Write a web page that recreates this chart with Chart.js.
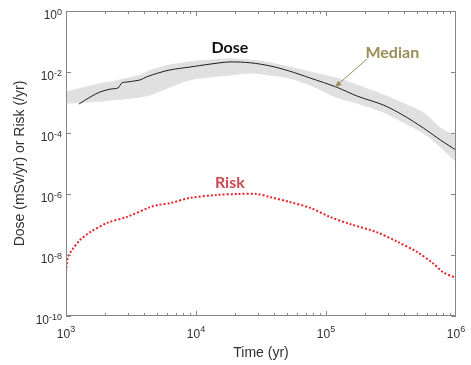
<!DOCTYPE html>
<html>
<head>
<meta charset="utf-8">
<script src="https://cdn.jsdelivr.net/npm/chart.js@4.4.1/dist/chart.umd.min.js"></script>
<style>
  html, body { margin: 0; padding: 0; background: #fff; }
  #wrap { width: 471px; height: 365px; }
</style>
</head>
<body>
<div id="wrap"><canvas id="chart"></canvas></div>
<script>
// values (log-log axes)
const doseTime   = [1259, 1531, 1820, 2188, 2512, 2692, 2951, 3715, 4169, 5129, 6310, 8913,
                    12880, 18200, 26300, 37150, 52480, 75860, 120200, 173800, 275400, 389000, 562300, 758600, 1000000];
const doseMedian = [8.9e-4, 1.5e-3, 2.2e-3, 2.75e-3, 3.0e-3, 4.4e-3, 4.7e-3, 5.5e-3, 6.9e-3, 9.3e-3, 1.17e-2, 1.45e-2,
                    1.82e-2, 2.14e-2, 2.0e-2, 1.58e-2, 1.07e-2, 6.3e-3, 3.2e-3, 1.62e-3, 8.3e-4, 3.9e-4, 1.45e-4, 5.9e-5, 2.75e-5];

// envelope of the individual realizations (grey band)
const bandTime  = [1000, 1928, 2188, 3715, 4426, 6310, 8913, 12880, 18200, 26300, 37150, 52480,
                   75860, 120200, 173800, 275400, 389000, 562300, 758600, 1000000];
const bandUpper = [2.19e-3, 4.37e-3, 4.68e-3, 7.9e-3, 1.12e-2, 1.7e-2, 2.14e-2, 2.45e-2, 2.69e-2, 2.45e-2, 2.0e-2, 1.45e-2,
                   1.0e-2, 6.3e-3, 3.7e-3, 1.78e-3, 9.5e-4, 4.6e-4, 1.45e-4, 7.9e-5];
const bandLower = [9.5e-4, 1.12e-3, 1.2e-3, 1.5e-3, 1.78e-3, 3.2e-3, 5.5e-3, 6.9e-3, 7.9e-3, 9.3e-3, 7.9e-3, 6.3e-3,
                   3.7e-3, 1.5e-3, 9.5e-4, 4.9e-4, 2.3e-4, 1.0e-4, 3.5e-5, 1.12e-5];

const riskTime   = [1000, 1035, 1112, 1282, 1531, 2065, 2951, 4426, 5129, 6310, 8913, 14450, 20890, 29510,
                    37150, 52480, 75860, 107200, 151400, 245500, 354800, 501200, 660700, 794300, 1000000];
const riskValues = [2.75e-9, 8.5e-9, 1.45e-8, 3.1e-8, 5.6e-8, 1.12e-7, 1.78e-7, 3.7e-7, 4.4e-7, 5.0e-7, 7.4e-7, 9.3e-7, 1.0e-6, 1.0e-6,
                    7.9e-7, 5.5e-7, 3.5e-7, 1.78e-7, 1.05e-7, 5.6e-8, 2.7e-8, 1.26e-8, 5.5e-9, 2.75e-9, 1.78e-9];

const xTickValues = [1e3, 1e4, 1e5, 1e6];
const yTickValues = [1e-10, 1e-8, 1e-6, 1e-4, 1e-2, 1];

const pts = (xs, ys) => xs.map((x, i) => ({ x, y: ys[i] }));
const expOf = v => String(Math.round(Math.log10(v)));

const AXIS_GREY = '#868686';
const TEXT_DARK = '#303030';
const SANS = '"Liberation Sans", Arial, sans-serif';

// box around the plot with inward ticks on all four sides
const frameTicks = {
  id: 'frameTicks',
  afterDraw(chart) {
    const { ctx, chartArea: a, scales: { x, y } } = chart;
    ctx.save();
    ctx.strokeStyle = AXIS_GREY;
    ctx.lineWidth = 1;
    ctx.strokeRect(a.left + 0.5, a.top + 0.5, a.right - a.left - 1, a.bottom - a.top - 1);
    ctx.beginPath();
    for (let d = 3; d < 6; d++) {
      for (let m = 1; m <= 9; m++) {
        const px = Math.round(x.getPixelForValue(m * 10 ** d)) + 0.5;
        const len = m === 1 ? 5 : 3;
        ctx.moveTo(px, a.bottom); ctx.lineTo(px, a.bottom - len);
        ctx.moveTo(px, a.top);    ctx.lineTo(px, a.top + len);
      }
    }
    yTickValues.forEach(v => {
      const py = Math.round(y.getPixelForValue(v)) + 0.5;
      ctx.moveTo(a.left, py);  ctx.lineTo(a.left + 5, py);
      ctx.moveTo(a.right, py); ctx.lineTo(a.right - 5, py);
    });
    ctx.stroke();
    ctx.restore();
  }
};

// tick labels as 10 with a raised exponent
const powLabels = {
  id: 'powLabels',
  afterDraw(chart) {
    const { ctx, chartArea: a, scales: { x, y } } = chart;
    ctx.save();
    ctx.fillStyle = TEXT_DARK;
    ctx.textBaseline = 'alphabetic';
    ctx.textAlign = 'left';
    const baseFont = s => `${s}px ${SANS}`;

    xTickValues.forEach(v => {
      const px = x.getPixelForValue(v);
      ctx.font = baseFont(12); const bw = ctx.measureText('10').width;
      ctx.font = baseFont(9);  const ew = ctx.measureText(expOf(v)).width;
      const x0 = px - (bw + ew) / 2;
      ctx.font = baseFont(12); ctx.fillText('10', x0, a.bottom + 22);
      ctx.font = baseFont(9);  ctx.fillText(expOf(v), x0 + bw, a.bottom + 16);
    });

    yTickValues.forEach(v => {
      const py = y.getPixelForValue(v);
      ctx.font = baseFont(12); const bw = ctx.measureText('10').width;
      ctx.font = baseFont(9);  const ew = ctx.measureText(expOf(v)).width;
      const x0 = a.left - 4 - ew - bw;
      ctx.font = baseFont(12); ctx.fillText('10', x0, py + 8);
      ctx.font = baseFont(9);  ctx.fillText(expOf(v), x0 + bw, py + 4);
    });
    ctx.restore();
  }
};

// "Dose", "Median" (with arrow) and "Risk" labels, placed in data coordinates
const notes = {
  id: 'notes',
  afterDatasetsDraw(chart) {
    const { ctx, scales: { x, y } } = chart;
    const P = (t, v) => [x.getPixelForValue(t), y.getPixelForValue(v)];
    ctx.save();
    ctx.font = 'bold 16px Lato, "Open Sans", sans-serif';
    ctx.textAlign = 'center';
    ctx.textBaseline = 'middle';

    let [px, py] = P(18200, 0.061);
    ctx.fillStyle = '#111';
    ctx.fillText('Dose', px, py);

    [px, py] = P(323600, 0.042);
    ctx.fillStyle = '#9a8d58';
    ctx.fillText('Median', px, py);

    [px, py] = P(18200, 2.3e-6);
    ctx.fillStyle = '#cc4a52';
    ctx.fillText('Risk', px, py);

    // arrow to the median line
    const [x1, y1] = P(206500, 0.0267);
    const [x2, y2] = P(117200, 3.2e-3);
    ctx.strokeStyle = '#9a8d58';
    ctx.fillStyle = '#9a8d58';
    ctx.lineWidth = 1;
    ctx.beginPath(); ctx.moveTo(x1, y1); ctx.lineTo(x2, y2); ctx.stroke();
    const ang = Math.atan2(y2 - y1, x2 - x1);
    ctx.beginPath();
    ctx.moveTo(x2, y2);
    ctx.lineTo(x2 - 7 * Math.cos(ang - 0.4), y2 - 7 * Math.sin(ang - 0.4));
    ctx.lineTo(x2 - 7 * Math.cos(ang + 0.4), y2 - 7 * Math.sin(ang + 0.4));
    ctx.closePath(); ctx.fill();
    ctx.restore();
  }
};

new Chart(document.getElementById('chart'), {
  type: 'line',
  data: {
    datasets: [
      { label: 'upper', data: pts(bandTime, bandUpper), borderColor: '#e0e0e0', borderWidth: 1,
        pointRadius: 0, tension: 0.3, fill: false, order: 3 },
      { label: 'lower', data: pts(bandTime, bandLower), borderColor: '#e0e0e0', borderWidth: 1,
        backgroundColor: '#e0e0e0', pointRadius: 0, tension: 0.3, fill: '-1', order: 3 },
      { label: 'Median', data: pts(doseTime, doseMedian), borderColor: '#1e1e1e', borderWidth: 1,
        pointRadius: 0, tension: 0.3, fill: false, order: 1 },
      { label: 'Risk', data: pts(riskTime, riskValues), borderColor: '#e8212b', borderWidth: 2,
        borderDash: [2, 2], pointRadius: 0, tension: 0.3, fill: false, order: 1 }
    ]
  },
  options: {
    responsive: true,
    maintainAspectRatio: false,
    animation: false,
    layout: { padding: { top: 11, right: 15, left: 0, bottom: 0 } },
    plugins: { legend: { display: false }, tooltip: { enabled: false } },
    scales: {
      x: {
        type: 'logarithmic', min: 1e3, max: 1e6,
        afterBuildTicks: s => { s.ticks = xTickValues.map(value => ({ value })); },
        afterFit: s => { s.height = 49; },
        grid: { display: false, drawTicks: false },
        border: { display: false },
        ticks: { display: false },
        title: { display: true, text: 'Time (yr)', color: TEXT_DARK, padding: { top: 0, bottom: 3 },
                 font: { family: SANS, size: 14 } }
      },
      y: {
        type: 'logarithmic', min: 1e-10, max: 1,
        afterBuildTicks: s => { s.ticks = yTickValues.map(value => ({ value })); },
        afterFit: s => { s.width = 66; },
        grid: { display: false, drawTicks: false },
        border: { display: false },
        ticks: { display: false },
        title: { display: true, text: 'Dose (mSv/yr) or Risk (/yr)', color: TEXT_DARK, padding: { top: 12, bottom: 0 },
                 font: { family: SANS, size: 14 } }
      }
    }
  },
  plugins: [frameTicks, powLabels, notes]
});
</script>
</body>
</html>
